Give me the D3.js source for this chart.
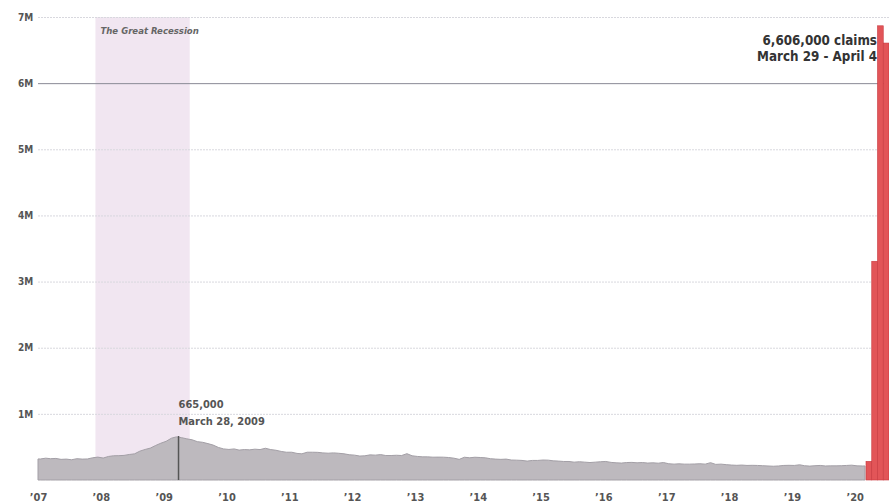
<!DOCTYPE html>
<html>
<head>
<meta charset="utf-8">
<script src="https://cdn.jsdelivr.net/npm/d3@7"></script>
<style>
  body { margin: 0; background: #fff; }
  svg { display: block; font-family: "DejaVu Sans Condensed", "DejaVu Sans", sans-serif; }
</style>
</head>
<body>
<div id="claims-chart"></div>
<script>
// weekly initial jobless claims, monthly averages (thousands)
var years = [2007, 2008, 2009, 2010, 2011, 2012, 2013, 2014, 2015, 2016, 2017, 2018, 2019, 2020];
var monthlyClaims = [
  [318, 330, 322, 326, 312, 316, 306, 322, 316, 318, 336, 346],
  [332, 356, 366, 368, 372, 386, 395, 436, 462, 482, 522, 556],
  [585, 632, 652, 640, 622, 608, 580, 570, 550, 528, 492, 470],
  [462, 470, 452, 460, 456, 466, 460, 480, 460, 450, 432, 420],
  [420, 402, 396, 420, 420, 418, 410, 405, 410, 404, 396, 382],
  [376, 362, 366, 380, 376, 384, 370, 370, 374, 370, 398, 366],
  [356, 350, 350, 345, 346, 345, 340, 330, 312, 344, 336, 344],
  [340, 335, 322, 316, 312, 316, 302, 300, 296, 286, 296, 296],
  [302, 300, 290, 286, 280, 280, 270, 276, 270, 264, 270, 276],
  [280, 266, 260, 256, 264, 266, 260, 264, 256, 260, 254, 264],
  [246, 240, 245, 240, 240, 242, 246, 240, 262, 236, 240, 232],
  [226, 222, 226, 220, 222, 220, 216, 212, 208, 212, 220, 222],
  [220, 230, 216, 210, 216, 220, 212, 214, 214, 216, 220, 224],
  [214, 212]
];

// the 2020 spike, drawn as red bars
var spikeWeeks = ["Mar 14", "Mar 21", "Mar 28", "Apr 4"];
var spikeClaims = [282000, 3307000, 6867000, 6606000];
var spikeLabelValue = 6606000;

var recession = ["2007-12-01", "2009-06-01"];
var peakDate = "2009-03-28";
var peakValue = 665000;

var yTicks = [1e6, 2e6, 3e6, 4e6, 5e6, 6e6, 7e6];
var yTickLabels = ["1M", "2M", "3M", "4M", "5M", "6M", "7M"];
var xTickLabels = ["\u201907", "\u201908", "\u201909", "\u201910", "\u201911", "\u201912", "\u201913",
                   "\u201914", "\u201915", "\u201916", "\u201917", "\u201918", "\u201919", "\u201920"];

var width = 889;
var height = 504;
var left = 38;
var bottom = 480;

var parse = d3.timeParse("%Y-%m-%d");

var data = [];
years.forEach(function(yr, i) {
  monthlyClaims[i].forEach(function(v, m) {
    data.push({ date: new Date(yr, m, 15), value: v * 1000 });
  });
});

var svg = d3.select("#claims-chart")
  .append("svg")
    .attr("width", width)
    .attr("height", height);

var x = d3.scaleTime()
  .domain([new Date(2007, 0, 1), new Date(2020, 2, 1)])
  .range([left, 865]);

var xSpike = d3.scaleBand()
  .domain(spikeWeeks)
  .range([866, width])
  .padding(0);

var y = d3.scaleLinear()
  .domain([0, 7e6])
  .range([bottom, 17]);

// recession band
svg.append("rect")
  .attr("x", x(parse(recession[0])))
  .attr("y", y(7e6))
  .attr("width", x(parse(recession[1])) - x(parse(recession[0])))
  .attr("height", y(0) - y(7e6))
  .style("fill", "#f1e6f1");

svg.append("text")
  .attr("x", x(parse(recession[0])) + 5)
  .attr("y", 34)
  .style("font-size", "9.5px")
  .style("font-style", "italic")
  .style("font-weight", "bold")
  .style("fill", "#666")
  .text("The Great Recession");

// gridlines + y labels
var yAxis = svg.append("g")
  .call(d3.axisLeft(y).tickValues(yTicks).tickSize(-(width - left)).tickFormat(function(d, i) { return yTickLabels[i]; }))
  .attr("transform", "translate(" + left + ",0)");
yAxis.select(".domain").remove();
yAxis.selectAll(".tick line")
  .attr("stroke", function(d) { return d === 6e6 ? "#8a8a96" : "#d8d8de"; })
  .attr("stroke-dasharray", function(d) { return d === 6e6 ? null : "2,1"; });
yAxis.selectAll(".tick text")
  .attr("x", -20)
  .attr("text-anchor", "start")
  .style("font-family", "'DejaVu Sans Condensed', sans-serif")
  .style("font-size", "10px")
  .style("font-weight", "bold")
  .style("fill", "#555");

// claims area
var area = d3.area()
  .x(function(d) { return x(d.date); })
  .y0(y(0))
  .y1(function(d) { return y(d.value); });

var areaData = [{ date: new Date(2007, 0, 1), value: data[0].value }]
  .concat(data)
  .concat([{ date: new Date(2020, 2, 1), value: data[data.length - 1].value }]);

svg.append("path")
  .datum(areaData)
  .attr("d", area)
  .style("fill", "#bdb9be")
  .style("stroke", "#a39fa6")
  .style("stroke-width", 1);

// peak marker
svg.append("line")
  .attr("x1", x(parse(peakDate)))
  .attr("x2", x(parse(peakDate)))
  .attr("y1", y(0))
  .attr("y2", y(peakValue))
  .style("stroke", "#555")
  .style("stroke-width", 1.5);

svg.append("text")
  .attr("x", x(parse(peakDate)))
  .attr("y", 408)
  .style("font-size", "11px")
  .style("font-weight", "bold")
  .style("fill", "#555")
  .text(d3.format(",")(peakValue));

svg.append("text")
  .attr("x", x(parse(peakDate)))
  .attr("y", 425)
  .style("font-size", "11px")
  .style("font-weight", "bold")
  .style("fill", "#555")
  .text("March 28, 2009");

// 2020 bars
svg.selectAll("rect.spike")
  .data(spikeClaims)
  .enter()
  .append("rect")
    .attr("class", "spike")
    .attr("x", function(d, i) { return xSpike(spikeWeeks[i]); })
    .attr("y", function(d) { return y(d); })
    .attr("width", xSpike.bandwidth())
    .attr("height", function(d) { return y(0) - y(d); })
    .style("fill", "#e25558")
    .style("stroke", "#c8383e")
    .style("stroke-width", 0.6);

svg.append("text")
  .attr("x", 877)
  .attr("y", 45)
  .attr("text-anchor", "end")
  .style("font-size", "13.3px")
  .style("font-weight", "bold")
  .style("fill", "#333")
  .text(d3.format(",")(spikeLabelValue) + " claims");

svg.append("text")
  .attr("x", 877)
  .attr("y", 61)
  .attr("text-anchor", "end")
  .style("font-size", "13.3px")
  .style("font-weight", "bold")
  .style("fill", "#333")
  .text("March 29 - April 4");

// x axis labels
var xAxis = svg.append("g")
  .attr("transform", "translate(0," + bottom + ")")
  .call(d3.axisBottom(x)
    .tickValues(years.map(function(yr) { return new Date(yr, 0, 1); }))
    .tickSize(0)
    .tickPadding(13)
    .tickFormat(function(d, i) { return xTickLabels[i]; }));
xAxis.select(".domain").remove();
xAxis.selectAll(".tick text")
  .style("font-family", "'DejaVu Sans Condensed', sans-serif")
  .style("font-size", "11px")
  .style("font-weight", "bold")
  .style("fill", "#555");
</script>
</body>
</html>
